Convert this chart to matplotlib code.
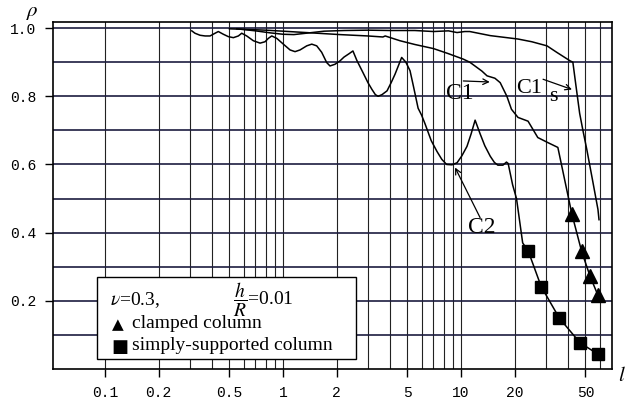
import numpy as np
import matplotlib.pyplot as plt
from matplotlib.patches import Rectangle
from matplotlib.ticker import FixedLocator, NullFormatter

plt.rcParams['mathtext.fontset'] = 'stix'

# curve C1s (simply supported, shell theory)
c1s_l = [0.55, 0.7, 0.85, 1.0, 1.15, 1.4, 1.7, 2.2, 3.0, 4.0, 5.5, 7.0, 8.5, 9.5, 10.5,
         11.2, 14.6, 20.9, 25.0, 30.4, 34.5, 41.0, 42.5, 44.0, 46.4, 48.4, 50.9, 55.0,
         58.8, 59.6]
c1s_r = [0.998, 0.992, 0.986, 0.982, 0.981, 0.986, 0.991, 0.993, 0.994, 0.993, 0.993,
         0.990, 0.992, 0.987, 0.990, 0.990, 0.978, 0.968, 0.960, 0.948, 0.929, 0.904,
         0.900, 0.840, 0.750, 0.700, 0.644, 0.550, 0.468, 0.438]

# curve C1 (clamped, shell theory)
c1_l = [0.5, 0.8, 1.25, 2.09, 3.0, 3.64, 3.75, 4.54, 5.5, 7.0, 8.5, 10.3, 11.2, 13.1,
        14.0, 15.5, 16.6, 18.1, 19.2, 20.9, 23.8, 27.0, 30.8, 35.0]
c1_r = [0.998, 0.994, 0.988, 0.981, 0.977, 0.974, 0.977, 0.963, 0.952, 0.940, 0.925,
        0.909, 0.900, 0.874, 0.860, 0.853, 0.840, 0.800, 0.762, 0.738, 0.727, 0.679,
        0.664, 0.650]

# curve C2
c2_l = [0.307, 0.320, 0.342, 0.365, 0.389, 0.415, 0.433, 0.462, 0.493, 0.526, 0.561,
        0.586, 0.625, 0.681, 0.743, 0.792, 0.827, 0.864, 0.922, 1.004, 1.095, 1.168,
        1.246, 1.359, 1.45, 1.546, 1.649, 1.759, 1.836, 1.959, 2.09, 2.2, 2.35, 2.47,
        2.6, 2.81, 3.0, 3.16, 3.3, 3.42, 3.6, 3.84, 4.05, 4.26, 4.45, 4.64, 4.9, 5.17,
        5.4, 5.74, 6.0, 6.27, 6.8, 7.33, 7.8, 8.3, 8.9, 9.5, 10.1, 10.8, 11.4, 12.0,
        12.8, 13.6, 14.6, 15.4, 16.1, 17.2, 18.0, 18.4, 19.5, 20.5, 22.2]
c2_r = [0.992, 0.985, 0.979, 0.977, 0.977, 0.985, 0.990, 0.982, 0.975, 0.972, 0.977,
        0.985, 0.977, 0.963, 0.956, 0.960, 0.970, 0.977, 0.970, 0.953, 0.936, 0.931,
        0.936, 0.948, 0.953, 0.948, 0.929, 0.899, 0.889, 0.894, 0.904, 0.915, 0.925,
        0.933, 0.905, 0.870, 0.840, 0.820, 0.805, 0.800, 0.805, 0.816, 0.840, 0.865,
        0.890, 0.914, 0.900, 0.875, 0.830, 0.765, 0.745, 0.720, 0.670, 0.638, 0.615,
        0.600, 0.599, 0.605, 0.625, 0.653, 0.690, 0.730, 0.690, 0.655, 0.624, 0.606,
        0.598, 0.598, 0.607, 0.603, 0.540, 0.500, 0.370]

# beam (column) results
clamped_l = [41.9, 47.6, 53.1, 58.6]
clamped_r = [0.456, 0.345, 0.272, 0.218]
simple_l = [23.9, 28.2, 35.7, 46.6, 58.6]
simple_r = [0.345, 0.242, 0.149, 0.077, 0.044]

xticks = [0.1, 0.2, 0.5, 1, 2, 5, 10, 20, 50]
xtick_labels = ['0.1', '0.2', '0.5', '1', '2', '5', '10', '20', '50']
yticks = [0.2, 0.4, 0.6, 0.8, 1.0]
ytick_labels = ['0.2', '0.4', '0.6', '0.8', '1.0']

fig = plt.figure(figsize=(6.28, 3.99), dpi=100)
ax = fig.add_axes([0.0844, 0.0752, 0.8901, 0.8697])
ax.set_xscale('log')
ax.set_xlim(0.051, 70.5)
ax.set_ylim(0, 1.018)

# grid lines
vgrid = [0.1 * k for k in range(1, 10)] + list(range(1, 10)) + [10 * k for k in range(1, 7)]
for v in vgrid:
    ax.axvline(v, color='#222222', lw=0.8, zorder=1)
for h in np.arange(0.1, 1.01, 0.1):
    ax.axhline(h, color='#1c1c40', lw=1.2, zorder=1)

# curves, joined to the column results
ax.plot(c1s_l, c1s_r, color='k', lw=1.1, zorder=3)
ax.plot(c1_l + clamped_l, c1_r + clamped_r, color='k', lw=1.1, zorder=3)
ax.plot(c2_l + simple_l, c2_r + simple_r, color='k', lw=1.1, zorder=3)
ax.plot(clamped_l, clamped_r, ls='none', marker='^', ms=10, color='k', zorder=4)
ax.plot(simple_l, simple_r, ls='none', marker='s', ms=9, color='k', zorder=4)

ax.xaxis.set_major_locator(FixedLocator(xticks))
ax.xaxis.set_minor_locator(FixedLocator([]))
ax.set_xticks(xticks)
ax.set_xticklabels(xtick_labels)
ax.xaxis.set_minor_formatter(NullFormatter())
ax.set_yticks(yticks)
ax.set_yticklabels(ytick_labels)
ax.tick_params(axis='both', direction='out', length=6, width=1, labelsize=10.5, pad=6)
for lab in ax.get_xticklabels() + ax.get_yticklabels():
    lab.set_family('Liberation Mono')
for s in ax.spines.values():
    s.set_linewidth(1.2)

# axis labels
fig.text(0.051, 0.970, r'$\rho$', fontsize=15, ha='center', va='center')
fig.text(0.990, 0.060, r'$l$', fontsize=15, ha='center', va='center')

# curve labels
serif = 'Liberation Serif'
arrow = dict(arrowstyle='->', color='k', lw=0.9, shrinkA=0, shrinkB=0)
ax.annotate('', xy=(14.5, 0.842), xytext=(10.3, 0.845), arrowprops=arrow)
ax.text(9.87, 0.809, 'C1', family=serif, fontsize=17, ha='center', va='center')
ax.annotate('', xy=(42.0, 0.82), xytext=(28.9, 0.85), arrowprops=arrow)
ax.text(24.0, 0.824, 'C1', family=serif, fontsize=16, ha='center', va='center')
ax.text(33.0, 0.800, 's', family=serif, fontsize=16, ha='center', va='center')
ax.annotate('', xy=(9.26, 0.591), xytext=(12.8, 0.444), arrowprops=arrow)
ax.text(13.1, 0.415, 'C2', family=serif, fontsize=17, ha='center', va='center')

# legend box
fig.patches.append(Rectangle((0.1545, 0.1003), 0.4124, 0.2055, transform=fig.transFigure,
                             fc='white', ec='k', lw=1.0, zorder=6))
fig.text(0.175, 0.248, r'$\nu$=0.3,', family=serif, fontsize=14, ha='left',
         va='center', zorder=7)
fig.text(0.371, 0.248, r'$\dfrac{h}{R}$=0.01', family=serif, fontsize=14, ha='left',
         va='center', zorder=7)
fig.text(0.178, 0.186, '\u25b2', family='DejaVu Sans', fontsize=11, ha='left',
         va='center', zorder=7)
fig.text(0.210, 0.188, 'clamped column', family=serif, fontsize=14, ha='left',
         va='center', zorder=7)
fig.text(0.177, 0.131, '\u25a0', family='DejaVu Sans', fontsize=13, ha='left',
         va='center', zorder=7)
fig.text(0.210, 0.133, 'simply-supported column', family=serif, fontsize=14, ha='left',
         va='center', zorder=7)

fig.savefig('out.png', dpi=100)
